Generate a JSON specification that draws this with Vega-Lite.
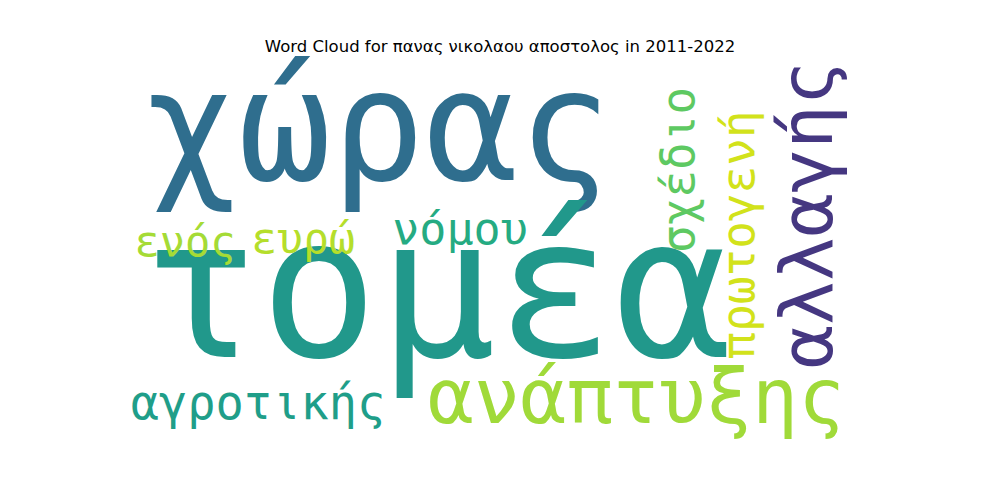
{
  "$schema": "https://vega.github.io/schema/vega-lite/v6.json",
  "width": 1000,
  "height": 500,
  "autosize": "none",
  "padding": 0,
  "background": "white",
  "title": {"text": "Word Cloud for πανας νικολαου αποστολος in 2011-2022", "font": "DejaVu Sans", "fontSize": 16.5, "fontWeight": "normal", "color": "black", "dy": 59},
  "data": {"values": [
    {"word": "χώρας", "x": 378, "y": 133, "freq": 155, "angle": 0},
    {"word": "τομέα", "x": 437, "y": 298, "freq": 196, "angle": 0},
    {"word": "αλλαγής", "x": 810, "y": 215, "freq": 73, "angle": 270},
    {"word": "ανάπτυξης", "x": 636, "y": 400, "freq": 77, "angle": 0},
    {"word": "αγροτικής", "x": 258, "y": 405, "freq": 47, "angle": 0},
    {"word": "ενός", "x": 185, "y": 243, "freq": 42, "angle": 0},
    {"word": "ευρώ", "x": 303, "y": 240, "freq": 43, "angle": 0},
    {"word": "νόμου", "x": 460, "y": 230, "freq": 45, "angle": 0},
    {"word": "σχέδιο", "x": 680, "y": 170, "freq": 46, "angle": 270},
    {"word": "πρωτογενή", "x": 740, "y": 235, "freq": 46, "angle": 270}
  ]},
  "mark": {"type": "text", "font": "DejaVu Sans Mono", "align": "center", "baseline": "middle"},
  "encoding": {
    "x": {"field": "x", "type": "quantitative", "scale": {"domain": [0, 1000]}, "axis": null},
    "y": {"field": "y", "type": "quantitative", "scale": {"domain": [500, 0]}, "axis": null},
    "text": {"field": "word"},
    "size": {"field": "freq", "type": "quantitative", "scale": null, "legend": null},
    "angle": {"field": "angle", "type": "quantitative", "scale": null},
    "color": {"field": "word", "type": "nominal", "legend": null, "scale": {
      "domain": ["χώρας", "τομέα", "αλλαγής", "ανάπτυξης", "αγροτικής", "ενός", "ευρώ", "νόμου", "σχέδιο", "πρωτογενή"],
      "range": ["#2f6e8e", "#21988b", "#453781", "#a0da39", "#1f9e89", "#a5db36", "#b5de2b", "#25ab82", "#5ec962", "#d2e21b"]}}
  },
  "config": {"view": {"stroke": null}}
}
